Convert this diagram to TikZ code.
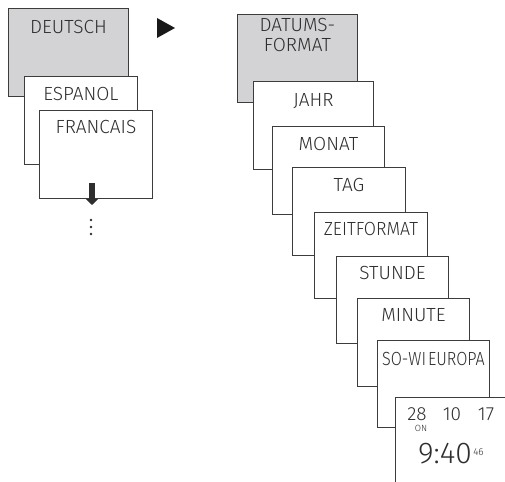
\documentclass[tikz,border=0pt]{standalone}
\usepackage{fontspec}
\setmainfont{Fira Sans}[UprightFont=* Light]
\usetikzlibrary{arrows.meta}
\definecolor{framegray}{HTML}{3C3C3C}
\definecolor{menugray}{HTML}{D3D3D5}
\definecolor{inkgray}{HTML}{2E2E2E}
\begin{document}
\begin{tikzpicture}[x=1pt,y=-1pt,
    screen/.style={draw=framegray, line width=0.9pt, fill=white, anchor=north west,
        minimum width=113pt, minimum height=88pt, inner sep=0pt},
    menu/.style={screen, fill=menugray, minimum width=120pt},
    entry/.style={font=\fontsize{19}{20}\selectfont, text=inkgray,
        text height=13pt, text depth=0pt, inner sep=0pt},
    small/.style={font=\fontsize{10}{11}\selectfont, text=inkgray,
        text height=7pt, text depth=0pt, inner sep=0pt}]
    \path[clip] (0,0) rectangle (505,481);

    % language menu
    \node[menu] (deutsch) at (8,8) {};
    \node[entry] (deutschtext) at ([yshift=-19pt]deutsch.north) {DEUTSCH};
    \node[screen] (espanol) at (24,76) {};
    \node[entry] (espanoltext) at ([yshift=-18pt]espanol.north) {ESPANOL};
    \node[screen] (francais) at (39,110) {};
    \node[entry] (francaistext) at ([yshift=-17pt]francais.north) {FRANCAIS};

    \draw[inkgray, line width=6.5pt, -{Triangle[width=12pt,length=6pt]}]
        (92,183) -- (92,205);
    \foreach \y in {220,227,234}
        \fill[inkgray] (91,\y) circle (1.4pt);

    \fill[black!90] (157,18) -- (175,28) -- (157,38) -- cycle;

    % date and time menu
    \node[menu] (datum) at (237,14) {};
    \node[entry, align=center] (datumtext) at ([yshift=-31pt]datum.north)
        {DATUMS-\\FORMAT};
    \node[screen, minimum width=120pt] (jahr) at (253,81) {};
    \node[entry] (jahrtext) at ([yshift=-19pt]jahr.north) {JAHR};
    \node[screen, minimum width=112pt] (monat) at (272,126) {};
    \node[entry] (monattext) at ([yshift=-17.5pt]monat.north) {MONAT};
    \node[screen] (tag) at (292,167) {};
    \node[entry] (tagtext) at ([yshift=-18pt]tag.north) {TAG};
    \node[screen, minimum height=86pt] (zeit) at (314,212) {};
    \node[entry] (zeittext) at ([yshift=-16.5pt]zeit.north) {\addfontfeature{FakeStretch=0.93}ZEITFORMAT};
    \node[screen, minimum width=112pt, minimum height=87pt] (stunde) at (336,256) {};
    \node[entry] (stundetext) at ([yshift=-17pt]stunde.north) {STUNDE};
    \node[screen, minimum width=112pt] (minute) at (357,298) {};
    \node[entry] (minutetext) at ([yshift=-17pt]minute.north) {MINUTE};
    \node[screen, minimum width=112pt, minimum height=87pt] (sowi) at (377,340) {};
    \node[entry] (sowitext) at ([yshift=-18.5pt]sowi.north)
        {\addfontfeature{FakeStretch=0.85}SO-WI\hspace{2pt}EUROPA};

    % clock display
    \node[screen, minimum width=130pt, minimum height=100pt] (display) at (395,397) {};
    \node[entry] (day) at (417,414) {28};
    \node[entry] (month) at (452,414) {10};
    \node[entry] (year) at (486,414) {17};
    \node[small, font=\fontsize{9}{10}\selectfont, text height=6.5pt] (weekday) at (421,428.5) {ON};
    \node[entry, font=\fontsize{30}{32}\selectfont, text height=21pt] (time) at (445,452.5) {9:40};
    \node[small] (seconds) at (478.5,451.5) {46};
\end{tikzpicture}
\end{document}
